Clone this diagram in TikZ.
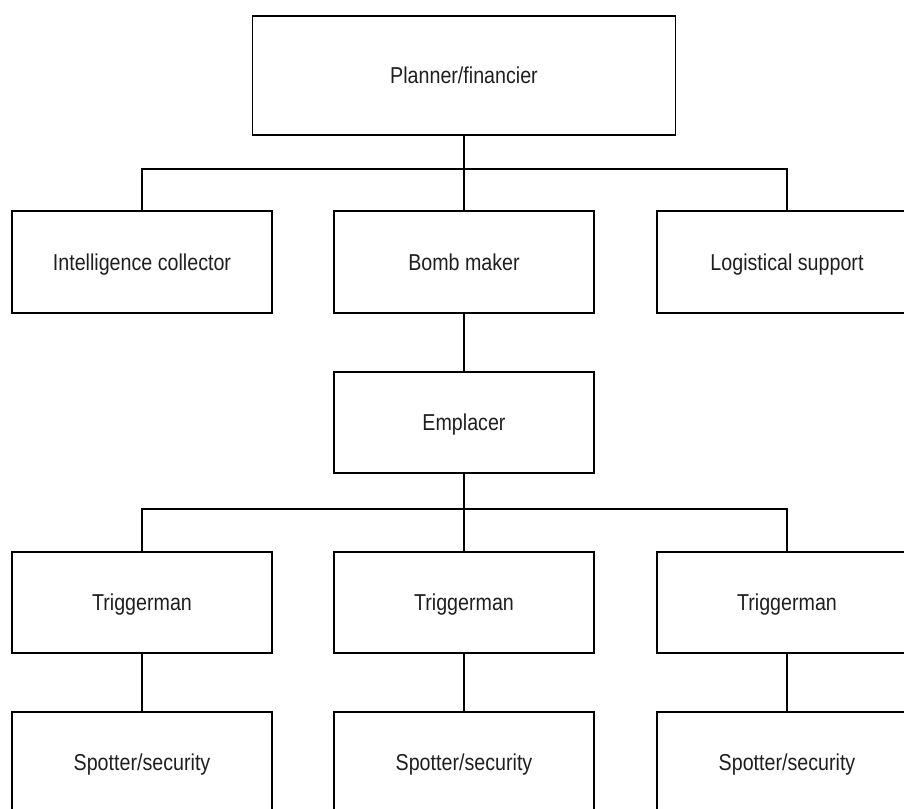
\documentclass[tikz,border=0pt]{standalone}
\usepackage{fontspec}
\setmainfont[FakeStretch=0.855]{Liberation Sans}
\begin{document}
\begin{tikzpicture}[x=1pt,y=-1pt,
  box/.style={draw=black, line width=1.6pt, fill=white, rectangle, inner sep=0pt, outer sep=0pt,
    minimum width=260pt, minimum height=101pt, font=\fontsize{23}{26}\selectfont, text=black!88,
    text height=16pt, text depth=0pt},
  link/.style={draw=black, line width=1.4pt}]
\useasboundingbox (0,0) rectangle (904,808);
\begin{scope}
\clip (0,0) rectangle (904,808);
\node[box, minimum width=423pt, minimum height=119pt] (top) at (464,75.5) {Planner/financier};
\node[box, minimum height=102pt] (intel) at (142,262) {Intelligence collector};
\node[box, minimum height=102pt] (bomb) at (464,262) {Bomb maker};
\node[box, minimum height=102pt] (logi) at (787,262) {Logistical support};
\node[box] (empl) at (464,422.5) {Emplacer};
\node[box] (trigA) at (142,602.5) {Triggerman};
\node[box] (trigB) at (464,602.5) {Triggerman};
\node[box] (trigC) at (787,602.5) {Triggerman};
\node[box] (spotA) at (142,762.5) {Spotter/security};
\node[box] (spotB) at (464,762.5) {Spotter/security};
\node[box] (spotC) at (787,762.5) {Spotter/security};
\coordinate (j1) at (464,169);
\coordinate (j2) at (464,509);
\draw[link] (top.south) -- (bomb.north);
\draw[link] (intel.north) |- (j1) -| (logi.north);
\draw[link] (bomb.south) -- (empl.north);
\draw[link] (empl.south) -- (trigB.north);
\draw[link] (trigA.north) |- (j2) -| (trigC.north);
\draw[link] (trigA.south) -- (spotA.north);
\draw[link] (trigB.south) -- (spotB.north);
\draw[link] (trigC.south) -- (spotC.north);
\end{scope}
\end{tikzpicture}
\end{document}
